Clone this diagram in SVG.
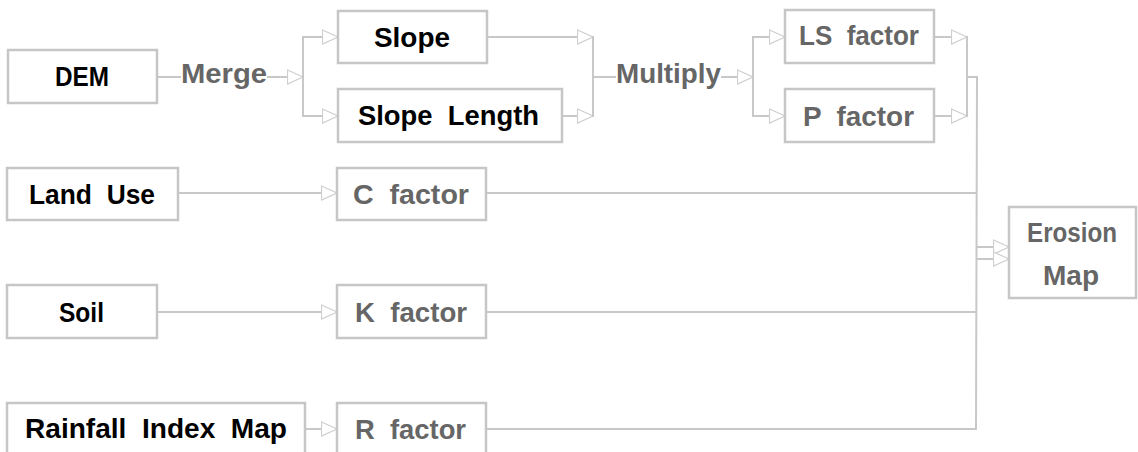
<svg xmlns="http://www.w3.org/2000/svg" width="1138" height="452" viewBox="0 0 1138 452">
  <defs>
    <!-- hollow triangular arrowhead, tip at the end of the line -->
    <marker id="arrow" markerUnits="userSpaceOnUse" markerWidth="18" markerHeight="16" refX="16.5" refY="8" orient="auto">
      <path d="M1,1 L16.5,8 L1,15 Z" fill="#ffffff" stroke="#cfcfcf" stroke-width="1.2"/>
    </marker>
    <style>
      .box { fill: #ffffff; stroke: #c6c6c6; stroke-width: 2.5; }
      .wire { fill: none; stroke: #c8c8c8; stroke-width: 2; }
      .lbl { font-family: "Liberation Sans", Arial, sans-serif; font-weight: bold; font-size: 28px; }
      .dark { fill: #000000; }
      .grey { fill: #666666; }
    </style>
  </defs>
  <rect width="1138" height="452" fill="#ffffff"/>

  <!-- connectors -->
  <g id="connectors">
    <!-- DEM -> Merge -> slope / slope length -->
    <line class="wire" x1="157" y1="77" x2="181" y2="77"/>
    <line class="wire" x1="267" y1="77" x2="303" y2="77" marker-end="url(#arrow)"/>
    <line class="wire" x1="303" y1="36" x2="303" y2="117"/>
    <line class="wire" x1="303" y1="37" x2="338" y2="37" marker-end="url(#arrow)"/>
    <line class="wire" x1="303" y1="116" x2="338" y2="116" marker-end="url(#arrow)"/>

    <!-- slope / slope length -> Multiply -->
    <line class="wire" x1="487" y1="37" x2="593" y2="37" marker-end="url(#arrow)"/>
    <line class="wire" x1="562" y1="116" x2="593" y2="116" marker-end="url(#arrow)"/>
    <line class="wire" x1="593" y1="36" x2="593" y2="117"/>
    <line class="wire" x1="593" y1="77" x2="616" y2="77"/>

    <!-- Multiply -> LS factor / P factor -->
    <line class="wire" x1="721" y1="77" x2="753" y2="77" marker-end="url(#arrow)"/>
    <line class="wire" x1="753" y1="36" x2="753" y2="117"/>
    <line class="wire" x1="753" y1="37" x2="785" y2="37" marker-end="url(#arrow)"/>
    <line class="wire" x1="753" y1="116" x2="785" y2="116" marker-end="url(#arrow)"/>

    <!-- LS factor / P factor -> collector -->
    <line class="wire" x1="934" y1="37" x2="967" y2="37" marker-end="url(#arrow)"/>
    <line class="wire" x1="934" y1="116" x2="967" y2="116" marker-end="url(#arrow)"/>
    <line class="wire" x1="967" y1="36" x2="967" y2="117"/>
    <polyline class="wire" points="967,77 977,77 976,429"/>

    <!-- inputs -> C / K / R factor -->
    <line class="wire" x1="178" y1="193" x2="337" y2="193" marker-end="url(#arrow)"/>
    <line class="wire" x1="157" y1="312" x2="337" y2="312" marker-end="url(#arrow)"/>
    <line class="wire" x1="305" y1="429" x2="337" y2="429" marker-end="url(#arrow)"/>

    <!-- C / K / R factor -> collector -->
    <line class="wire" x1="486" y1="193" x2="977" y2="193"/>
    <line class="wire" x1="486" y1="312" x2="977" y2="312"/>
    <line class="wire" x1="486" y1="429" x2="977" y2="429"/>

    <!-- collector -> Erosion Map -->
    <line class="wire" x1="977" y1="247" x2="1009" y2="247" marker-end="url(#arrow)"/>
    <line class="wire" x1="977" y1="259" x2="1009" y2="259" marker-end="url(#arrow)"/>
  </g>

  <!-- connector labels -->
  <g id="op-merge">
    <text class="lbl grey" x="181" y="83" textLength="86" lengthAdjust="spacingAndGlyphs">Merge</text>
  </g>
  <g id="op-multiply">
    <text class="lbl grey" x="616" y="83" textLength="105" lengthAdjust="spacingAndGlyphs">Multiply</text>
  </g>

  <!-- nodes -->
  <g id="node-dem">
    <rect class="box" x="8" y="50" width="149" height="53"/>
    <text class="lbl dark" x="55" y="86" textLength="54" lengthAdjust="spacingAndGlyphs">DEM</text>
  </g>
  <g id="node-slope">
    <rect class="box" x="338" y="11" width="149" height="52"/>
    <text class="lbl dark" x="374" y="47" textLength="76" lengthAdjust="spacingAndGlyphs">Slope</text>
  </g>
  <g id="node-slope-length">
    <rect class="box" x="338" y="89" width="224" height="53"/>
    <text class="lbl dark" x="358" y="125" textLength="181" lengthAdjust="spacingAndGlyphs" xml:space="preserve">Slope  Length</text>
  </g>
  <g id="node-ls-factor">
    <rect class="box" x="785" y="10" width="149" height="53"/>
    <text class="lbl grey" x="799" y="45" textLength="120" lengthAdjust="spacingAndGlyphs" xml:space="preserve">LS  factor</text>
  </g>
  <g id="node-p-factor">
    <rect class="box" x="785" y="89" width="149" height="53"/>
    <text class="lbl grey" x="803" y="126" textLength="111" lengthAdjust="spacingAndGlyphs" xml:space="preserve">P  factor</text>
  </g>
  <g id="node-land-use">
    <rect class="box" x="7" y="168" width="171" height="52"/>
    <text class="lbl dark" x="29" y="204" textLength="126" lengthAdjust="spacingAndGlyphs" xml:space="preserve">Land  Use</text>
  </g>
  <g id="node-c-factor">
    <rect class="box" x="337" y="168" width="149" height="52"/>
    <text class="lbl grey" x="353" y="204" textLength="116" lengthAdjust="spacingAndGlyphs" xml:space="preserve">C  factor</text>
  </g>
  <g id="node-soil">
    <rect class="box" x="7" y="285" width="150" height="53"/>
    <text class="lbl dark" x="59" y="322" textLength="45" lengthAdjust="spacingAndGlyphs">Soil</text>
  </g>
  <g id="node-k-factor">
    <rect class="box" x="337" y="285" width="149" height="53"/>
    <text class="lbl grey" x="355" y="322" textLength="112" lengthAdjust="spacingAndGlyphs" xml:space="preserve">K  factor</text>
  </g>
  <g id="node-rainfall">
    <rect class="box" x="7" y="403" width="298" height="53"/>
    <text class="lbl dark" x="25" y="438" textLength="262" lengthAdjust="spacingAndGlyphs" xml:space="preserve">Rainfall  Index  Map</text>
  </g>
  <g id="node-r-factor">
    <rect class="box" x="337" y="403" width="149" height="53"/>
    <text class="lbl grey" x="355" y="439" textLength="111" lengthAdjust="spacingAndGlyphs" xml:space="preserve">R  factor</text>
  </g>
  <g id="node-erosion-map">
    <rect class="box" x="1009" y="207" width="127" height="91"/>
    <text class="lbl grey" x="1027" y="242" textLength="90" lengthAdjust="spacingAndGlyphs">Erosion</text>
    <text class="lbl grey" x="1043" y="285" textLength="56" lengthAdjust="spacingAndGlyphs">Map</text>
  </g>
</svg>
